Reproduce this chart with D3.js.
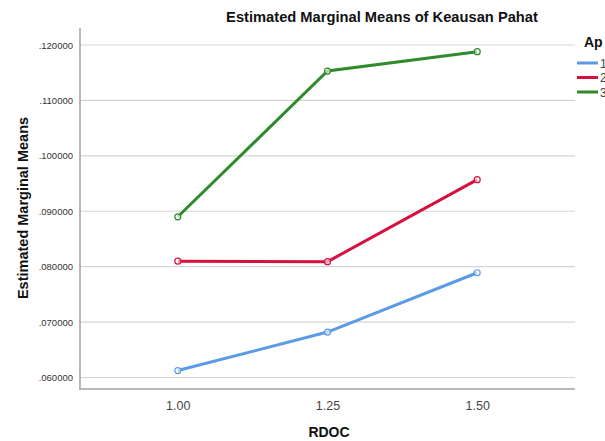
<!DOCTYPE html>
<html><head><meta charset="utf-8">
<script src="https://cdn.jsdelivr.net/npm/d3@7"></script>
<style>body{margin:0;background:#fff}svg{display:block}text{font-family:"Liberation Sans",Arial,sans-serif}</style>
</head><body>
<script>
const categories = [1.00, 1.25, 1.50];
const xTickLabels = ["1.00", "1.25", "1.50"];
const yTicks = [0.06, 0.07, 0.08, 0.09, 0.10, 0.11, 0.12];
const seriesNames = ["1", "2", "3"];
const series1 = [0.06125, 0.0682, 0.0789];
const series2 = [0.0810, 0.0809, 0.0957];
const series3 = [0.0890, 0.1153, 0.1188];
const colors = ["#5b9be6", "#d7103f", "#2f8a2c"];

const W = 605, H = 441;
const svg = d3.select("body").append("svg").attr("width", W).attr("height", H);

const x = d3.scaleLinear().domain([0.8367, 1.6633]).range([80, 575]);
const y = d3.scaleLinear().domain([0.06, 0.12]).range([377.5, 45]);
const yBottom = 389, yTop = 28;

// gridlines
svg.append("g").selectAll("line").data(yTicks).join("line")
  .attr("x1", 80).attr("x2", 575).attr("y1", d => y(d)).attr("y2", d => y(d))
  .attr("stroke", "#d4d4d4").attr("stroke-width", 1.2);

// y axis
const yAxis = d3.axisLeft(y).tickValues(yTicks).tickSize(0).tickPadding(7)
  .tickFormat(d => d3.format(".6f")(d).replace(/^0/, ""));
const gy = svg.append("g").attr("transform", "translate(80,0)").call(yAxis);
gy.select(".domain").remove();
gy.selectAll("text").attr("font-size", 9.5).attr("fill", "#333");
svg.append("line").attr("x1", 80).attr("x2", 80).attr("y1", yTop).attr("y2", yBottom)
  .attr("stroke", "#a0a0a0").attr("stroke-width", 1.5);

// x axis
const xAxis = d3.axisBottom(x).tickValues(categories).tickSize(0).tickPadding(12)
  .tickFormat((d, i) => xTickLabels[i]);
const gx = svg.append("g").attr("transform", `translate(0,${yBottom})`).call(xAxis);
gx.select(".domain").remove();
gx.selectAll("text").attr("font-size", 12.5).attr("fill", "#444");
svg.append("line").attr("x1", 79).attr("x2", 575).attr("y1", yBottom).attr("y2", yBottom)
  .attr("stroke", "#a0a0a0").attr("stroke-width", 1.5);

// series
const allSeries = [series1, series2, series3];
const line = d3.line().x((d, i) => x(categories[i])).y(d => y(d));
allSeries.forEach((s, k) => {
  svg.append("path").datum(s).attr("d", line).attr("fill", "none")
    .attr("stroke", colors[k]).attr("stroke-width", 3);
  svg.append("g").selectAll("circle").data(s).join("circle")
    .attr("cx", (d, i) => x(categories[i])).attr("cy", d => y(d)).attr("r", 3)
    .attr("fill", "#fff").attr("fill-opacity", 0.6).attr("stroke", colors[k]).attr("stroke-width", 1.2);
});

// title
svg.append("text").attr("x", 382).attr("y", 22).attr("text-anchor", "middle")
  .attr("font-size", 14.7).attr("font-weight", "bold").attr("fill", "#111")
  .text("Estimated Marginal Means of Keausan Pahat");

// axis titles
svg.append("text").attr("x", 329).attr("y", 437).attr("text-anchor", "middle")
  .attr("font-size", 14).attr("font-weight", "bold").attr("fill", "#111").text("RDOC");
svg.append("text").attr("transform", "translate(28,208) rotate(-90)").attr("text-anchor", "middle")
  .attr("font-size", 14.5).attr("font-weight", "bold").attr("fill", "#111").text("Estimated Marginal Means");

// legend
svg.append("text").attr("x", 584).attr("y", 47).attr("font-size", 14).attr("font-weight", "bold")
  .attr("fill", "#111").text("Ap");
seriesNames.forEach((n, k) => {
  const ly = 63 + k * 14.5;
  svg.append("line").attr("x1", 577).attr("x2", 598).attr("y1", ly).attr("y2", ly)
    .attr("stroke", colors[k]).attr("stroke-width", 3);
  svg.append("text").attr("x", 600).attr("y", ly + 4.5).attr("font-size", 12).attr("fill", "#444").text(n);
});
</script>
</body></html>
